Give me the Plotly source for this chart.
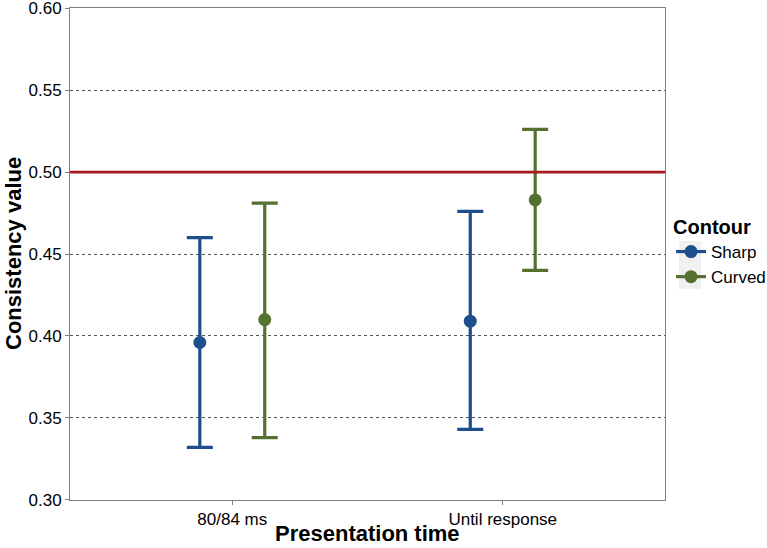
import plotly.graph_objects as go

categories = ["80/84 ms", "Until response"]
sharp_mean = [0.396, 0.409]
sharp_low = [0.332, 0.343]
sharp_high = [0.460, 0.476]
curved_mean = [0.410, 0.483]
curved_low = [0.338, 0.440]
curved_high = [0.481, 0.526]
reference_value = 0.50
y_ticks = [0.30, 0.35, 0.40, 0.45, 0.50, 0.55, 0.60]

series = [
    ("Sharp", sharp_mean, sharp_low, sharp_high, "#1F4E8C"),
    ("Curved", curved_mean, curved_low, curved_high, "#56702F"),
]

FONT = "Liberation Sans, Arial, Helvetica, sans-serif"
fig = go.Figure()

for name, m, lo, hi, col in series:
    fig.add_trace(go.Scatter(
        x=categories, y=m, mode="markers", name=name, showlegend=False,
        offsetgroup=name,
        marker=dict(color=col, size=13),
        error_y=dict(type="data", array=[h - v for h, v in zip(hi, m)],
                     arrayminus=[v - l for v, l in zip(m, lo)],
                     color=col, thickness=3.2, width=13),
    ))

for name, m, lo, hi, col in series:
    fig.add_trace(go.Scatter(
        x=[None], y=[None], mode="lines+markers", name=name, offsetgroup=name,
        line=dict(color=col, width=3.2), marker=dict(color=col, size=13),
    ))

fig.add_hline(y=reference_value, line=dict(color="#A8191E", width=2.8), layer="above")

# grey legend key backgrounds (ggplot style)
for y0, y1 in [(0.5264, 0.478), (0.478, 0.4289)]:
    fig.add_shape(type="rect", xref="paper", yref="paper", x0=1.0235, x1=1.0605,
                  y0=y0, y1=y1, fillcolor="#F0F0F0", line=dict(width=0), layer="below")

fig.add_annotation(text="<b>Consistency value</b>", xref="paper", yref="paper",
                   x=-57 / 595, y=0.5, xanchor="center", yanchor="middle",
                   textangle=-90, showarrow=False, font=dict(size=22, color="black"))
fig.add_annotation(text="<b>Presentation time</b>", xref="paper", yref="paper",
                   x=0.5, y=-33 / 492, xanchor="center", yanchor="middle",
                   showarrow=False, font=dict(size=22, color="black"))

fig.update_layout(
    width=767, height=548,
    margin=dict(l=70, r=102, t=8, b=48),
    paper_bgcolor="white", plot_bgcolor="white",
    scattermode="group", scattergap=0.52,
    font=dict(family=FONT, size=17, color="black"),
    legend=dict(
        title=dict(text="<b>Contour</b>", font=dict(size=20)),
        xref="container", yref="container",
        x=671 / 767, xanchor="left", y=1 - 208 / 548, yanchor="top",
        font=dict(size=17), tracegroupgap=0, itemwidth=30,
        bgcolor="rgba(0,0,0,0)",
    ),
    xaxis=dict(
        type="category", range=[-0.6, 1.6], automargin=False,
        showgrid=False, showline=True, linecolor="#7f7f7f", linewidth=1, mirror=True,
        ticks="outside", ticklen=4, tickcolor="#7f7f7f",
        tickfont=dict(size=17, color="black"),
    ),
    yaxis=dict(
        range=[0.2999, 0.6001], tickvals=y_ticks, tickformat=".2f", automargin=False,
        ticklabeloverflow="allow",
        showgrid=True, gridcolor="#555555", griddash="dot", gridwidth=0.7,
        zeroline=False,
        showline=True, linecolor="#7f7f7f", linewidth=1, mirror=True,
        ticks="outside", ticklen=4, tickcolor="#7f7f7f",
        tickfont=dict(size=17, color="black"),
    ),
)

fig.write_html("out.html", config={"displayModeBar": False},
               post_script="document.body.style.margin='0';")
